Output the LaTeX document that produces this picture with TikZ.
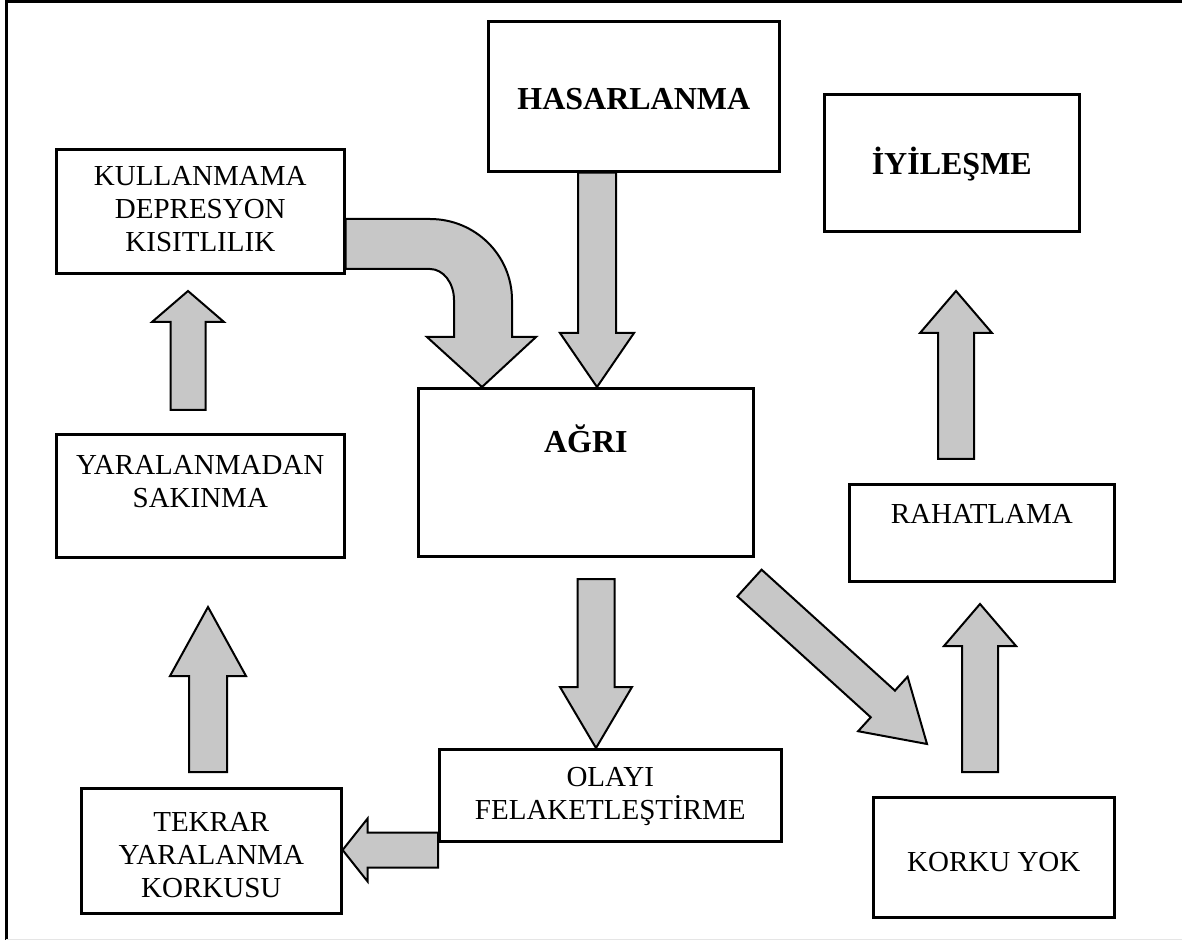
\documentclass[tikz,border=0pt]{standalone}
\usepackage{fontspec}
\setmainfont{Liberation Serif}
\usetikzlibrary{calc}

% text block pinned to the top of a box: width, height, first baseline, lines
\newcommand{\inbox}[4]{\parbox[c][#2][t]{#1}{\centering\rule{0pt}{#3}#4}}
\newcommand{\headtxt}[1]{{\fontsize{16}{18}\selectfont\bfseries #1}}
% block arrow: tail, tip, shaft half width, head half width, head length
\newcommand{\fatarrow}[5]{%
  \path ($#2!#5!#1$) coordinate (fb);
  \draw[fat] ($#1!#3!90:#2$) -- ($(fb)!#3!90:#2$) -- ($(fb)!#4!90:#2$) -- #2
    -- ($(fb)!#4!-90:#2$) -- ($(fb)!#3!-90:#2$) -- ($#1!#3!-90:#2$) -- cycle;
}

\begin{document}
\begin{tikzpicture}[x=0.5pt, y=-0.5pt,
    box/.style={draw, line width=1.3pt, inner sep=0pt, anchor=north west},
    fat/.style={draw, line width=1pt, fill=black!22, line join=miter},
    every node/.style={font=\fontsize{14.5}{16.5}\selectfont}]
  \useasboundingbox (0,0) rectangle (1182,940);
  \draw[line width=1.5pt] (6,940) -- (6,2) -- (1182,2);
  \draw[black!10] (6,939) -- (1182,939);

  \node[box] (hasar)  at (487,20)  {\inbox{145.5pt}{75pt}{44pt}{\headtxt{HASARLANMA}}};
  \node[box] (kull)   at (55,148)  {\inbox{144pt}{62pt}{18pt}{KULLANMAMA\\DEPRESYON\\KISITLILIK}};
  \node[box] (iyi)    at (823,93)  {\inbox{127.5pt}{68.5pt}{40pt}{\headtxt{İYİLEŞME}}};
  \node[box] (agri)   at (417,387) {\inbox{167.5pt}{84pt}{32pt}{\headtxt{AĞRI}}};
  \node[box] (yaral)  at (55,433)  {\inbox{144pt}{61.5pt}{20pt}{YARALANMADAN\\SAKINMA}};
  \node[box] (rahat)  at (848,483) {\inbox{132.5pt}{48.5pt}{19.5pt}{RAHATLAMA}};
  \node[box] (olayi)  at (438,748) {\inbox{171pt}{46pt}{18.5pt}{OLAYI\\FELAKETLEŞTİRME}};
  \node[box] (tekrar) at (80,787)  {\inbox{130pt}{62.5pt}{21.5pt}{TEKRAR\\YARALANMA\\KORKUSU}};
  \node[box] (korku)  at (872,796) {\inbox{120.5pt}{60pt}{37pt}{KORKU YOK}};

  % block arrows
  \fatarrow{(597,0 |- hasar.south)}{(597,0 |- agri.north)}{9.5pt}{18.5pt}{27pt}
  \fatarrow{(596,579)}{(596,0 |- olayi.north)}{9.25pt}{18pt}{30.5pt}
  \fatarrow{(749.5,583)}{(927,744)}{9pt}{18.4pt}{29.8pt}
  \fatarrow{(980,772)}{(980,604)}{9pt}{18pt}{21pt}
  \fatarrow{(956,459)}{(956,291)}{9pt}{18pt}{21pt}
  \fatarrow{(208,772)}{(208,607)}{9.5pt}{19pt}{34.5pt}
  \fatarrow{(188,410)}{(188,291)}{8.75pt}{18pt}{15.5pt}
  \fatarrow{(olayi.west |- 0,850)}{(tekrar.east |- 0,850)}{8.75pt}{15.75pt}{12.5pt}
  % bent one from kull down onto agri
  \draw[fat] (kull.east |- 0,219) -- (430,219)
    arc[start angle=270, end angle=360, x radius=82, y radius=81]
    -- (512,337) -- (536,337) -- (482,0 |- agri.north) -- (427,337) -- (454,337)
    -- (454,300) arc[start angle=0, end angle=-90, x radius=24, y radius=31]
    -- (kull.east |- 0,269) -- cycle;
\end{tikzpicture}
\end{document}
